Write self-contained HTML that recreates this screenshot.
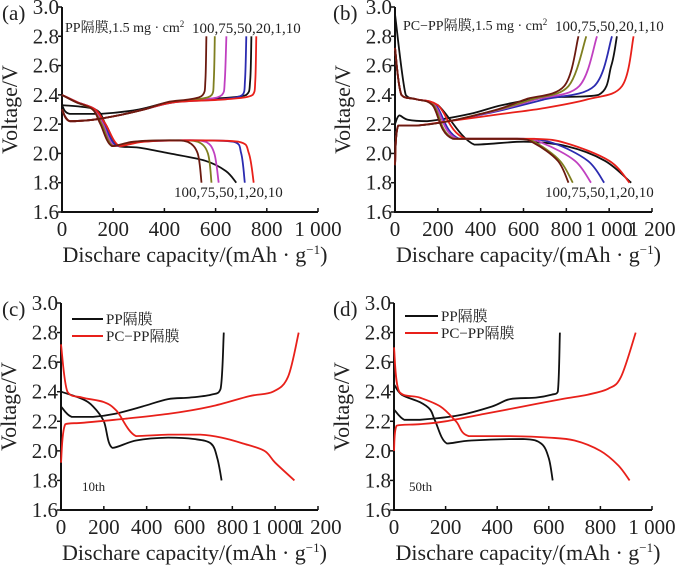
<!DOCTYPE html>
<html><head><meta charset="utf-8"><style>
html,body{margin:0;padding:0;background:#fff;}
svg{display:block;}
svg text{font-family:"Liberation Serif","Noto Serif CJK SC","Noto Sans CJK SC",serif;}
</style></head><body>
<svg id="chart" width="700" height="566" viewBox="0 0 700 566" xmlns="http://www.w3.org/2000/svg"></svg>
<script>
// ---------- data ----------
const yTicks = [1.6,1.8,2.0,2.2,2.4,2.6,2.8,3.0];
const xTicks1000 = [0,200,400,600,800,1000];
const xTicks1200 = [0,200,400,600,800,1000,1200];
const seriesColors = {c1:'#111111',c10:'#e8201a',c20:'#2b2bb0',c50:'#c040c0',c75:'#7f7f20',c100:'#6b1a10'};

// Panel (a) PP separator
const aDisV = [2.40,2.35,2.30,2.20,2.05,2.08,2.09,2.08,2.00,1.80];
const aDisCap10 = [0,60,130,170,225,320,500,690,730,749];
const aDisCap20 = [0,60,130,165,215,310,500,670,700,714];
const aDisCap50 = [0,55,125,160,205,300,480,560,595,612];
const aDisCap75 = [0,55,120,155,200,290,450,530,570,584];
const aDisCap100 = [0,55,120,150,195,280,420,490,530,545];
const aDisV1 = [2.33,2.30,2.20,2.05,2.04,2.00,1.95,1.88,1.80];
const aDisCap1 = [0,130,170,220,300,420,560,640,681];
const aChV = [2.30,2.22,2.23,2.26,2.30,2.35,2.37,2.40,2.50,2.80];
const aChCap10 = [0,30,120,220,320,440,640,745,755,759];
const aChCap20 = [0,30,120,220,320,440,620,705,715,720];
const aChCap50 = [0,30,120,220,320,420,560,625,636,642];
const aChCap75 = [0,30,120,220,320,420,530,585,593,597];
const aChCap100 = [0,30,120,220,320,410,500,550,560,564];
const aChV1 = [2.33,2.27,2.27,2.30,2.35,2.37,2.40,2.50,2.80];
const aChCap1 = [0,30,150,300,420,560,720,735,740];

// Panel (b) PC-PP separator
const bDisV = [2.72,2.40,2.37,2.33,2.10,2.10,2.07,1.95,1.80];
const bDisCap10 = [0,30,100,200,330,650,800,1000,1095];
const bDisCap20 = [0,30,100,190,300,600,740,900,977];
const bDisCap50 = [0,30,100,185,290,590,690,840,915];
const bDisCap75 = [0,30,100,180,275,580,660,770,830];
const bDisCap100 = [0,30,100,175,270,570,650,760,810];
const bDisV1 = [2.95,2.40,2.37,2.33,2.06,2.08,2.05,1.95,1.80];
const bDisCap1 = [0,50,100,200,370,600,800,980,1103];
const bChV = [1.92,2.19,2.19,2.22,2.27,2.31,2.37,2.46,2.80];
const bChCap10 = [0,15,100,250,500,700,900,1060,1114];
const bChCap20 = [0,15,100,250,420,540,700,930,1013];
const bChCap50 = [0,15,100,250,410,520,660,860,943];
const bChCap75 = [0,15,100,250,400,510,640,810,893];
const bChCap100 = [0,15,100,250,400,500,610,790,857];
const bChV1 = [2.20,2.26,2.23,2.22,2.27,2.33,2.38,2.40,2.60,2.80];
const bChCap1 = [0,20,60,150,350,500,700,950,1010,1036];

// Panel (c) 10th cycle
const cPPChV = [2.30,2.23,2.23,2.25,2.30,2.35,2.36,2.38,2.42,2.80];
const cPPChCap = [0,50,150,250,380,500,600,700,745,760];
const cPPDisV = [2.40,2.35,2.30,2.20,2.02,2.07,2.09,2.08,2.05,1.95,1.80];
const cPPDisCap = [0,100,150,200,240,350,500,620,700,730,750];
const cPCDisV = [2.72,2.40,2.36,2.33,2.27,2.10,2.11,2.11,2.09,2.05,2.00,1.92,1.80];
const cPCDisCap = [0,30,100,200,260,350,500,650,750,850,950,1000,1090];
const cPCChV = [1.92,2.18,2.19,2.21,2.25,2.30,2.37,2.40,2.50,2.80];
const cPCChCap = [0,20,100,250,500,700,880,990,1060,1110];

// Panel (d) 50th cycle
const dPPChV = [2.28,2.21,2.21,2.24,2.30,2.35,2.36,2.38,2.40,2.80];
const dPPChCap = [0,40,100,250,380,450,550,610,635,643];
const dPPDisV = [2.45,2.38,2.33,2.28,2.20,2.05,2.07,2.08,2.05,1.95,1.80];
const dPPDisCap = [0,30,100,140,160,205,300,500,570,600,615];
const dPCDisV = [2.70,2.40,2.36,2.30,2.20,2.10,2.10,2.09,2.07,2.00,1.90,1.80];
const dPCDisCap = [0,20,100,180,240,290,450,600,700,800,870,913];
const dPCChV = [2.00,2.17,2.18,2.20,2.25,2.30,2.35,2.38,2.42,2.50,2.80];
const dPCChCap = [0,10,100,200,350,500,650,750,830,880,937];

// ---------- drawing ----------
const NS='http://www.w3.org/2000/svg';
const svg=document.getElementById('chart');
const FONT='Liberation Serif, Noto Serif CJK SC, serif';
function mk(tag,attrs,parent){const e=document.createElementNS(NS,tag);for(const k in attrs)e.setAttribute(k,attrs[k]);(parent||svg).appendChild(e);return e;}
function clamp(v,a,b){const lo=Math.min(a,b),hi=Math.max(a,b);return Math.max(lo,Math.min(hi,v));}
function smoothPath(pts){
  let d='M'+pts[0][0].toFixed(1)+','+pts[0][1].toFixed(1);
  for(let i=0;i<pts.length-1;i++){
    const p0=pts[Math.max(i-1,0)],p1=pts[i],p2=pts[i+1],p3=pts[Math.min(i+2,pts.length-1)];
    const c1=[clamp(p1[0]+(p2[0]-p0[0])/6,p1[0],p2[0]),clamp(p1[1]+(p2[1]-p0[1])/6,p1[1],p2[1])];
    const c2=[clamp(p2[0]-(p3[0]-p1[0])/6,p1[0],p2[0]),clamp(p2[1]-(p3[1]-p1[1])/6,p1[1],p2[1])];
    d+=' C'+c1[0].toFixed(1)+','+c1[1].toFixed(1)+' '+c2[0].toFixed(1)+','+c2[1].toFixed(1)+' '+p2[0].toFixed(1)+','+p2[1].toFixed(1);
  }
  return d;
}

function panel(cfg){
  const g=mk('g',{});
  
  
  const x0=cfg.x0,x1=cfg.x1,yTop=cfg.yTop,yBot=cfg.yBot,xMax=cfg.xMax;
  const sx=v=>x0+(x1-x0)*v/xMax;
  const sy=v=>yBot-(yBot-yTop)*(v-1.6)/1.4;
  const ax=mk('path',{d:`M${x0},${yTop} V${yBot} H${x1}`,stroke:'#111',fill:'none','stroke-width':2},g);
  
  
  yTicks.forEach(t=>{
    mk('line',{x1:x0-4,x2:x0,y1:sy(t),y2:sy(t),stroke:'#111','stroke-width':1.5},g);
    const tx=mk('text',{x:x0-3,y:sy(t)+7,'font-size':21,'font-family':FONT,'text-anchor':'end',fill:'#222'},g);
    tx.textContent=t.toFixed(1);
    
    
  });
  cfg.xTicks.forEach(t=>{
    mk('line',{x1:sx(t),x2:sx(t),y1:yBot,y2:yBot-4,stroke:'#111','stroke-width':1.5},g);
    const tx=mk('text',{x:sx(t),y:yBot+24,'font-size':21,'font-family':FONT,'text-anchor':'middle',fill:'#222'},g);
    tx.textContent=t>=1000?('1 '+String(t).slice(1)):String(t);
    
    
  });
  const yl=mk('text',{x:0,y:0,'font-size':22,'font-family':FONT,'text-anchor':'middle',fill:'#222',transform:`translate(${cfg.x0-45},${(yTop+yBot)/2}) rotate(-90)`},g);
  yl.textContent='Voltage/V';
  
  
  const xl=mk('text',{x:(x0+x1)/2+5,y:yBot+50,'font-size':22,'font-family':FONT,'text-anchor':'middle',fill:'#222'},g);
  xl.innerHTML='Dischare capacity/(mAh · g<tspan font-size="13" dy="-8">−1</tspan><tspan dy="8">)</tspan>';
  
  
  const pl=mk('text',{x:cfg.lx,y:yTop+13,'font-size':21,'font-family':FONT,fill:'#222'},g);
  pl.textContent=cfg.letter;
  
  
  cfg.curves.forEach(c=>{
    const pts=c.cap.map((v,i)=>[sx(v),sy(c.v[i])]);
    const p=mk('path',{d:smoothPath(pts),stroke:c.color,fill:'none','stroke-width':1.8,'stroke-linejoin':'round'},g);
    
    
  });
  return {g,sx,sy};
}

const C=seriesColors;
panel({name:'panel-a',letter:'(a)',lx:2,x0:62,x1:318,yTop:7,yBot:212,xMax:1000,xTicks:xTicks1000,curves:[
 {name:'a-discharge-1',color:C.c1,cap:aDisCap1,v:aDisV1},
 {name:'a-charge-1',color:C.c1,cap:aChCap1,v:aChV1},
 {name:'a-discharge-20',color:C.c20,cap:aDisCap20,v:aDisV},
 {name:'a-charge-20',color:C.c20,cap:aChCap20,v:aChV},
 {name:'a-discharge-50',color:C.c50,cap:aDisCap50,v:aDisV},
 {name:'a-charge-50',color:C.c50,cap:aChCap50,v:aChV},
 {name:'a-discharge-75',color:C.c75,cap:aDisCap75,v:aDisV},
 {name:'a-charge-75',color:C.c75,cap:aChCap75,v:aChV},
 {name:'a-discharge-10',color:C.c10,cap:aDisCap10,v:aDisV},
 {name:'a-charge-10',color:C.c10,cap:aChCap10,v:aChV},
 {name:'a-discharge-100',color:C.c100,cap:aDisCap100,v:aDisV},
 {name:'a-charge-100',color:C.c100,cap:aChCap100,v:aChV}]});
panel({name:'panel-b',letter:'(b)',lx:333,x0:395,x1:652,yTop:7,yBot:212,xMax:1200,xTicks:xTicks1200,curves:[
 {name:'b-discharge-1',color:C.c1,cap:bDisCap1,v:bDisV1},
 {name:'b-charge-1',color:C.c1,cap:bChCap1,v:bChV1},
 {name:'b-discharge-20',color:C.c20,cap:bDisCap20,v:bDisV},
 {name:'b-charge-20',color:C.c20,cap:bChCap20,v:bChV},
 {name:'b-discharge-50',color:C.c50,cap:bDisCap50,v:bDisV},
 {name:'b-charge-50',color:C.c50,cap:bChCap50,v:bChV},
 {name:'b-discharge-75',color:C.c75,cap:bDisCap75,v:bDisV},
 {name:'b-charge-75',color:C.c75,cap:bChCap75,v:bChV},
 {name:'b-discharge-10',color:C.c10,cap:bDisCap10,v:bDisV},
 {name:'b-charge-10',color:C.c10,cap:bChCap10,v:bChV},
 {name:'b-discharge-100',color:C.c100,cap:bDisCap100,v:bDisV},
 {name:'b-charge-100',color:C.c100,cap:bChCap100,v:bChV}]});
panel({name:'panel-c',letter:'(c)',lx:2,x0:61,x1:318,yTop:303,yBot:510,xMax:1200,xTicks:xTicks1200,curves:[
 {name:'c-pp-charge',color:C.c1,cap:cPPChCap,v:cPPChV},
 {name:'c-pp-discharge',color:C.c1,cap:cPPDisCap,v:cPPDisV},
 {name:'c-pcpp-discharge',color:C.c10,cap:cPCDisCap,v:cPCDisV},
 {name:'c-pcpp-charge',color:C.c10,cap:cPCChCap,v:cPCChV}]});
panel({name:'panel-d',letter:'(d)',lx:333,x0:394,x1:652,yTop:303,yBot:510,xMax:1000,xTicks:xTicks1000,curves:[
 {name:'d-pp-charge',color:C.c1,cap:dPPChCap,v:dPPChV},
 {name:'d-pp-discharge',color:C.c1,cap:dPPDisCap,v:dPPDisV},
 {name:'d-pcpp-discharge',color:C.c10,cap:dPCDisCap,v:dPCDisV},
 {name:'d-pcpp-charge',color:C.c10,cap:dPCChCap,v:dPCChV}]});

// annotations and legends
function t(x,y,s,html,name){const e=document.createElementNS(NS,'text');e.setAttribute('x',x);e.setAttribute('y',y);e.setAttribute('font-size',s);e.setAttribute('font-family',FONT);e.setAttribute('fill','#222');e.innerHTML=html;
  
  
  svg.appendChild(e);}
t(65,32,14,'PP隔膜,1.5 mg · cm<tspan font-size="9" dy="-5">2</tspan>','a-condition-label');
t(192,33,15,'100,75,50,20,1,10','a-charge-order-label');
t(174,197,15,'100,75,50,1,20,10','a-discharge-order-label');
t(403,30,14,'PC−PP隔膜,1.5 mg · cm<tspan font-size="9" dy="-5">2</tspan>','b-condition-label');
t(555,31,15,'100,75,50,20,1,10','b-charge-order-label');
t(545,197,15,'100,75,50,1,20,10','b-discharge-order-label');
t(82,491,13,'10th','c-cycle-label');
t(409,491,13,'50th','d-cycle-label');
function leg(x1,x2,y,color,label,name){
  const l=document.createElementNS(NS,'line');
  l.setAttribute('x1',x1);l.setAttribute('x2',x2);l.setAttribute('y1',y);l.setAttribute('y2',y);
  l.setAttribute('stroke',color);l.setAttribute('stroke-width',2);
  
  
  svg.appendChild(l);
  t(x2+3,y+5,15,label,name);
}
leg(72,103,319,'#111','PP隔膜','c-legend-pp');
leg(72,103,336,'#e8201a','PC−PP隔膜','c-legend-pcpp');
leg(405,438,316,'#111','PP隔膜','d-legend-pp');
leg(405,438,333,'#e8201a','PC−PP隔膜','d-legend-pcpp');
</script>
</body></html>
